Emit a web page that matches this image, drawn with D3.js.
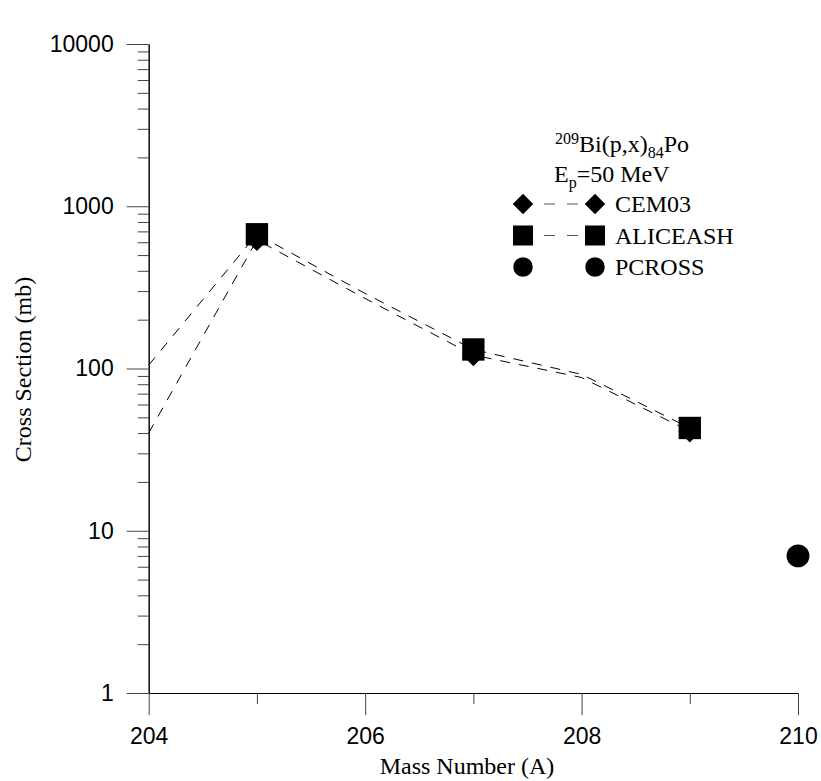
<!DOCTYPE html>
<html>
<head>
<meta charset="utf-8">
<script src="https://cdn.jsdelivr.net/npm/d3@7"></script>
<style>
  body { margin: 0; background: #fff; }
  svg { display: block; }
</style>
</head>
<body>
<script>
// values
let massNumbers = [204, 205, 206, 207, 208, 209];
let cem03 = [40, 620, 270, 121, 88, 41];
let aliceash = [105, 672, 290, 131, 92, 43];
let markerMasses = [205, 207, 209];
let pcrossMass = [210];
let pcross = [7];
let xTicks = [204, 206, 208, 210];
let xMinorTicks = [205, 207, 209];
let yTicks = [1, 10, 100, 1000, 10000];
let legendNames = ["CEM03", "ALICEASH", "PCROSS"];

let svgWidth = 821,
    svgHeight = 781,
    plot = {
        left: 148.7,
        right: 798,
        top: 44,
        bottom: 693
    };

let serif = "'Liberation Serif', 'Times New Roman', serif";
let sans = "'Liberation Sans', Arial, sans-serif";

let svg = d3.select("body").append("svg")
    .attr("width", svgWidth)
    .attr("height", svgHeight);

let x = d3.scaleLinear().domain([204, 210]).range([plot.left, plot.right]);
let y = d3.scaleLog().domain([1, 10000]).range([plot.bottom, plot.top]);

// minor log ticks 2..9 of every decade
let yMinorTicks = [];
for (let d = 1; d < 10000; d *= 10) {
    for (let k = 2; k <= 9; k++) yMinorTicks.push(d * k);
}

function styleAxis(g) {
    g.select(".domain").attr("stroke", "#000");
    g.selectAll(".tick line").attr("stroke", "#444");
    g.selectAll(".tick text")
        .attr("fill", "#000")
        .style("font-family", sans)
        .style("font-size", "23px");
}

svg.append("g")
    .attr("transform", "translate(" + plot.left + ",0)")
    .call(d3.axisLeft(y).tickValues(yMinorTicks).tickSize(11).tickSizeOuter(0).tickFormat(""))
    .call(styleAxis);

svg.append("g")
    .attr("transform", "translate(" + plot.left + ",0)")
    .call(d3.axisLeft(y).tickValues(yTicks).tickSize(22).tickSizeOuter(0).tickPadding(13).tickFormat(d3.format("d")))
    .call(styleAxis);

svg.append("g")
    .attr("transform", "translate(0," + plot.bottom + ")")
    .call(d3.axisBottom(x).tickValues(xMinorTicks).tickSize(11).tickSizeOuter(0).tickFormat(""))
    .call(styleAxis);

svg.append("g")
    .attr("transform", "translate(0," + plot.bottom + ")")
    .call(d3.axisBottom(x).tickValues(xTicks).tickSize(22).tickSizeOuter(0).tickPadding(13).tickFormat(d3.format("d")))
    .call(styleAxis);

// axis titles
svg.append("text")
    .attr("transform", "translate(31," + ((plot.top + plot.bottom) / 2 + 1) + ") rotate(-90)")
    .attr("text-anchor", "middle")
    .style("font-family", serif)
    .style("font-size", "24px")
    .text("Cross Section (mb)");

svg.append("text")
    .attr("x", 467)
    .attr("y", 774)
    .attr("text-anchor", "middle")
    .style("font-family", serif)
    .style("font-size", "24px")
    .text("Mass Number (A)");

// dashed lines
let line = d3.line()
    .x((d, i) => x(massNumbers[i]))
    .y(d => y(d));

[cem03, aliceash].forEach(values => {
    svg.append("path")
        .datum(values)
        .attr("d", line)
        .attr("fill", "none")
        .attr("stroke", "#000")
        .attr("stroke-width", 1)
        .attr("stroke-dasharray", "10,9");
});

// markers
let diamond = d3.symbol().type(d3.symbolSquare).size(250);
let square = d3.symbol().type(d3.symbolSquare).size(500);
let circle = d3.symbol().type(d3.symbolCircle).size(410);

markerMasses.forEach(m => {
    let i = massNumbers.indexOf(m);
    svg.append("path")
        .attr("d", diamond())
        .attr("transform", "translate(" + x(m) + "," + y(cem03[i]) + ") rotate(45)")
        .attr("fill", "#000");
});
markerMasses.forEach(m => {
    let i = massNumbers.indexOf(m);
    svg.append("path")
        .attr("d", square())
        .attr("transform", "translate(" + x(m) + "," + y(aliceash[i]) + ")")
        .attr("fill", "#000");
});
pcross.forEach((v, i) => {
    svg.append("path")
        .attr("d", circle())
        .attr("transform", "translate(" + x(pcrossMass[i]) + "," + y(v) + ")")
        .attr("fill", "#000");
});

// legend
let title = svg.append("text")
    .attr("x", 555)
    .attr("y", 152)
    .style("font-family", serif)
    .style("font-size", "24px");
title.append("tspan").style("font-size", "16px").attr("dy", -8).text("209");
title.append("tspan").attr("dy", 8).text("Bi(p,x)");
title.append("tspan").style("font-size", "16px").attr("dy", 6).text("84");
title.append("tspan").attr("dy", -6).text("Po");

let energy = svg.append("text")
    .attr("x", 554)
    .attr("y", 182)
    .style("font-family", serif)
    .style("font-size", "24px");
energy.append("tspan").text("E");
energy.append("tspan").style("font-size", "16px").attr("dy", 6).text("p");
energy.append("tspan").attr("dy", -6).text("=50 MeV");

let legendSymbols = [
    d3.symbol().type(d3.symbolSquare).size(210),
    d3.symbol().type(d3.symbolSquare).size(400),
    d3.symbol().type(d3.symbolCircle).size(300)
];
let legendRot = [45, 0, 0];
let legendDashed = [true, true, false];

legendNames.forEach((name, i) => {
    let cy = 204 + i * 31.5;
    [523, 595].forEach(cx => {
        svg.append("path")
            .attr("d", legendSymbols[i]())
            .attr("transform", "translate(" + cx + "," + cy + ") rotate(" + legendRot[i] + ")")
            .attr("fill", "#000");
    });
    if (legendDashed[i]) {
        svg.append("line")
            .attr("x1", 544).attr("x2", 578)
            .attr("y1", cy).attr("y2", cy)
            .attr("stroke", "#555")
            .attr("stroke-width", 1)
            .attr("stroke-dasharray", "11,12");
    }
    svg.append("text")
        .attr("x", 615)
        .attr("y", cy + 8)
        .style("font-family", serif)
        .style("font-size", "24px")
        .text(name);
});
</script>
</body>
</html>
